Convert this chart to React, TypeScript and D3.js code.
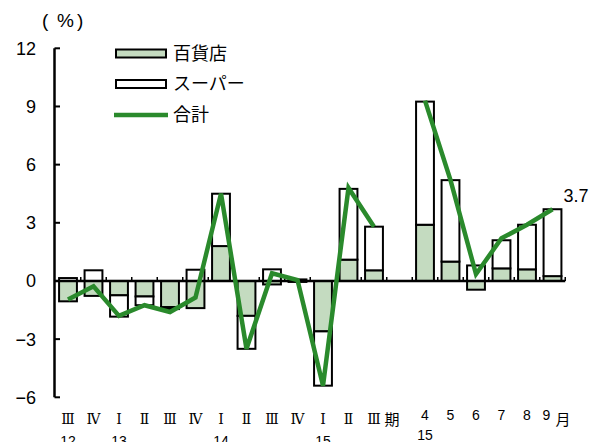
import React from "react";
import * as d3 from "d3";

// Slots along the x axis: 13 quarters, a spacer, then 6 months
const slotLabels = ["Ⅲ", "Ⅳ", "Ⅰ", "Ⅱ", "Ⅲ", "Ⅳ", "Ⅰ", "Ⅱ", "Ⅲ", "Ⅳ", "Ⅰ", "Ⅱ", "Ⅲ", "", "4", "5", "6", "7", "8", "9"];
const yearLabels: [number, string][] = [[0, "12"], [2, "13"], [6, "14"], [10, "15"]];
const monthYear: [number, string] = [14, "15"];

// Contributions (%), department stores and supermarkets, and their total
const deptStore: (number | null)[] = [-1.05, -0.77, -0.74, -0.8, -1.35, -1.4, 1.8, -1.8, -0.18, -0.05, -2.6, 1.1, 0.55, null, 2.9, 1.0, -0.45, 0.65, 0.6, 0.25];
const supermarket: (number | null)[] = [0.15, 0.55, -1.1, -0.45, -0.1, 0.58, 2.7, -1.7, 0.6, 0.08, -2.8, 3.65, 2.25, null, 6.35, 4.2, 0.8, 1.45, 2.3, 3.45];
const total: (number | null)[] = [-0.95, -0.27, -1.8, -1.25, -1.6, -0.85, 4.5, -3.5, 0.4, 0.05, -5.4, 4.8, 2.8, null, 9.3, 5.2, 0.35, 2.2, 2.9, 3.7];

const yTicks = [12, 9, 6, 3, 0, -3, -6];

const W = 601;
const H = 442;
const GREEN_FILL = "#c4dbc0";
const LINE_GREEN = "#2a8a2c";
const NUM_FONT = "'Liberation Sans', Arial, sans-serif";
const JP_FONT = "'Noto Sans CJK JP', sans-serif";
const ROMAN_FONT = "'DejaVu Serif', serif";

export default function App() {
  const idx = slotLabels.map((_, i) => i);
  const x = d3.scaleBand<number>().domain(idx).range([55.25, 565.25]).paddingInner(0.3).paddingOuter(0.15);
  const y = d3.scaleLinear().domain([-6, 12]).range([397.3, 48.3]);
  const step = x.step();
  const x0 = 55.25;
  const cx = (i: number) => (x(i) as number) + x.bandwidth() / 2;

  const rows = idx.map((i) => ({ i, dept: deptStore[i] ?? 0, sup: supermarket[i] ?? 0 }));
  const series = d3
    .stack<{ i: number; dept: number; sup: number }>()
    .keys(["dept", "sup"])
    .offset(d3.stackOffsetDiverging)(rows);

  const line = d3
    .line<number>()
    .defined((i) => total[i] != null)
    .x((i) => cx(i))
    .y((i) => y(total[i] as number));

  const lastIdx = idx.length - 1;
  const isMonth = (i: number) => i > 13;

  return (
    <svg width={W} height={H} style={{ position: "absolute", left: 0, top: 0, background: "#fff" }}>
      {/* unit */}
      <text y={27} fontFamily={NUM_FONT} fontSize={19} fill="#000">
        <tspan x={42}>(</tspan>
        <tspan x={65.5} textAnchor="middle">%</tspan>
        <tspan x={77}>)</tspan>
      </text>

      {/* y axis */}
      <line x1={54.5} x2={54.5} y1={y(12)} y2={y(-6)} stroke="#000" strokeWidth={2.5} />
      {yTicks.map((t) => (
        <g key={t}>
          <line x1={54.5} x2={60} y1={y(t)} y2={y(t)} stroke="#000" strokeWidth={2} />
          <text x={36} y={y(t)} dy="0.36em" textAnchor="end" fontFamily={NUM_FONT} fontSize={18} fill="#000">
            {t < 0 ? `−${-t}` : t}
          </text>
        </g>
      ))}

      {/* stacked bars */}
      {series.map((s) => (
        <g key={s.key}>
          {s.map((d, i) =>
            deptStore[i] == null || d[0] === d[1] ? null : (
              <rect
                key={i}
                x={x(i)}
                width={x.bandwidth()}
                y={y(Math.max(d[0], d[1]))}
                height={Math.abs(y(d[0]) - y(d[1]))}
                fill={s.key === "dept" ? GREEN_FILL : "#fff"}
                stroke="#000"
                strokeWidth={2}
              />
            )
          )}
        </g>
      ))}

      {/* zero line with category ticks */}
      <line x1={x0} x2={x0 + step * idx.length} y1={y(0)} y2={y(0)} stroke="#000" strokeWidth={2.5} />
      {d3.range(1, idx.length + 1).map((k) => (
        <line key={k} x1={x0 + k * step} x2={x0 + k * step} y1={y(0)} y2={y(0) - 4} stroke="#000" strokeWidth={1.5} />
      ))}

      {/* total */}
      <path d={line(idx) ?? ""} fill="none" stroke={LINE_GREEN} strokeWidth={4.5} strokeLinejoin="miter" />
      <text
        x={(x(lastIdx) as number) + x.bandwidth() + 2}
        y={y(total[lastIdx] as number) - 7}
        fontFamily={NUM_FONT}
        fontSize={18}
        fill="#000"
      >
        {total[lastIdx]}
      </text>

      {/* legend */}
      <rect x={116} y={49.5} width={50} height={8} fill={GREEN_FILL} stroke="#000" strokeWidth={2} />
      <text x={173} y={53.5} dy="0.36em" fontFamily={JP_FONT} fontSize={18} fill="#000">百貨店</text>
      <rect x={116} y={80} width={50} height={8} fill="#fff" stroke="#000" strokeWidth={2} />
      <text x={173} y={84} dy="0.36em" fontFamily={JP_FONT} fontSize={18} fill="#000">スーパー</text>
      <line x1={114} x2={168} y1={115} y2={115} stroke={LINE_GREEN} strokeWidth={4.5} />
      <text x={173} y={115} dy="0.36em" fontFamily={JP_FONT} fontSize={18} fill="#000">合計</text>

      {/* period labels */}
      {idx.map((i) =>
        slotLabels[i] === "" ? null : isMonth(i) ? (
          <text key={i} x={i === lastIdx ? cx(i) - 6 : cx(i)} y={420} textAnchor="middle" fontFamily={NUM_FONT} fontSize={14} fill="#000">
            {slotLabels[i]}
          </text>
        ) : (
          <text key={i} x={cx(i)} y={423.5} textAnchor="middle" fontFamily={ROMAN_FONT} fontSize={14} fill="#000">
            {slotLabels[i]}
          </text>
        )
      )}
      <text x={cx(12) + 18} y={425} textAnchor="middle" fontFamily={JP_FONT} fontSize={15} fill="#000">期</text>
      <text x={cx(lastIdx) + 10.5} y={425} textAnchor="middle" fontFamily={JP_FONT} fontSize={15} fill="#000">月</text>
      {yearLabels.map(([k, yr]) => (
        <text key={k + yr} x={cx(k)} y={446} textAnchor="middle" fontFamily={NUM_FONT} fontSize={14} fill="#000">{yr}</text>
      ))}
      <text x={cx(monthYear[0])} y={440} textAnchor="middle" fontFamily={NUM_FONT} fontSize={14} fill="#000">{monthYear[1]}</text>
    </svg>
  );
}
